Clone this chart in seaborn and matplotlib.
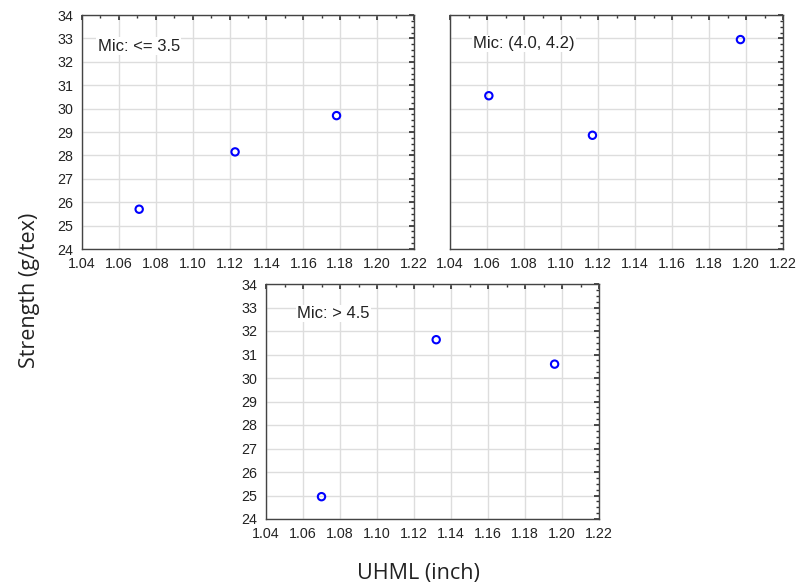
import matplotlib
matplotlib.use("Agg")
import matplotlib.pyplot as plt
from matplotlib.ticker import MultipleLocator, AutoMinorLocator
import seaborn as sns
import pandas as pd

# Values
panels = ["Mic: <= 3.5", "Mic: (4.0, 4.2)", "Mic: > 4.5"]
uhml_low = [1.071, 1.123, 1.178]
strength_low = [25.7, 28.15, 29.7]
uhml_mid = [1.061, 1.117, 1.197]
strength_mid = [30.55, 28.86, 32.95]
uhml_high = [1.070, 1.132, 1.196]
strength_high = [24.95, 31.63, 30.59]
label_pos = [(1.0485, 32.67), (1.0526, 32.78), (1.057, 32.75)]

df = pd.DataFrame({
    "uhml": uhml_low + uhml_mid + uhml_high,
    "strength": strength_low + strength_mid + strength_high,
    "panel": [panels[0]] * 3 + [panels[1]] * 3 + [panels[2]] * 3,
})

sns.set_theme(style="white")
plt.rcParams["font.family"] = ["Liberation Sans", "DejaVu Sans"]

W, H = 796, 586
fig = plt.figure(figsize=(W / 100, H / 100), dpi=100)

# axes boxes in pixel coords (left, top, right, bottom)
boxes = [(82, 15, 414, 249), (450, 15, 783, 249), (266, 284, 599, 519)]

for i, (name, box) in enumerate(zip(panels, boxes)):
    l, t, r, b = box
    ax = fig.add_axes([l / W, 1 - b / H, (r - l) / W, (b - t) / H])
    sub = df[df["panel"] == name]
    sns.scatterplot(data=sub, x="uhml", y="strength", ax=ax, marker="o",
                    s=28, facecolor="none", edgecolor="#0000ff", linewidth=1.5,
                    zorder=3)
    ax.set_xlim(1.04, 1.22)
    ax.set_ylim(24, 34)
    ax.xaxis.set_major_locator(MultipleLocator(0.02))
    ax.yaxis.set_major_locator(MultipleLocator(1))
    ax.xaxis.set_minor_locator(AutoMinorLocator(2))
    ax.yaxis.set_minor_locator(AutoMinorLocator(4))
    ax.xaxis.set_major_formatter(plt.FormatStrFormatter("%.2f"))
    ax.grid(True, which="major", color="#dddddd", linewidth=1)
    ax.set_axisbelow(True)
    ax.tick_params(which="both", direction="in", top=True, right=True,
                   color="#333333", labelsize=10.3, labelcolor="#222222")
    ax.tick_params(which="major", length=3.5)
    ax.tick_params(which="minor", length=2)
    ax.tick_params(axis="x", which="major", pad=5.5)
    ax.tick_params(axis="y", which="major", pad=6.5)
    for sp in ax.spines.values():
        sp.set_color("#444444")
        sp.set_linewidth(1)
    ax.set_xlabel("")
    ax.set_ylabel("")
    if i == 1:
        ax.tick_params(labelleft=False)
    tx, ty = label_pos[i]
    ax.text(tx, ty, name, fontsize=12, color="#222222", va="center", ha="left",
            bbox=dict(facecolor="white", edgecolor="none", pad=1), zorder=2)

fig.text(30 / W, 1 - 290 / H, "Strength (g/tex)", rotation=90, ha="center",
         va="center", fontsize=15.5, family="Open Sans", color="#222222")
fig.text(418 / W, 1 - 573 / H, "UHML (inch)", ha="center", va="center",
         fontsize=15.5, family="Open Sans", color="#222222")

fig.savefig("out.png", dpi=100)
